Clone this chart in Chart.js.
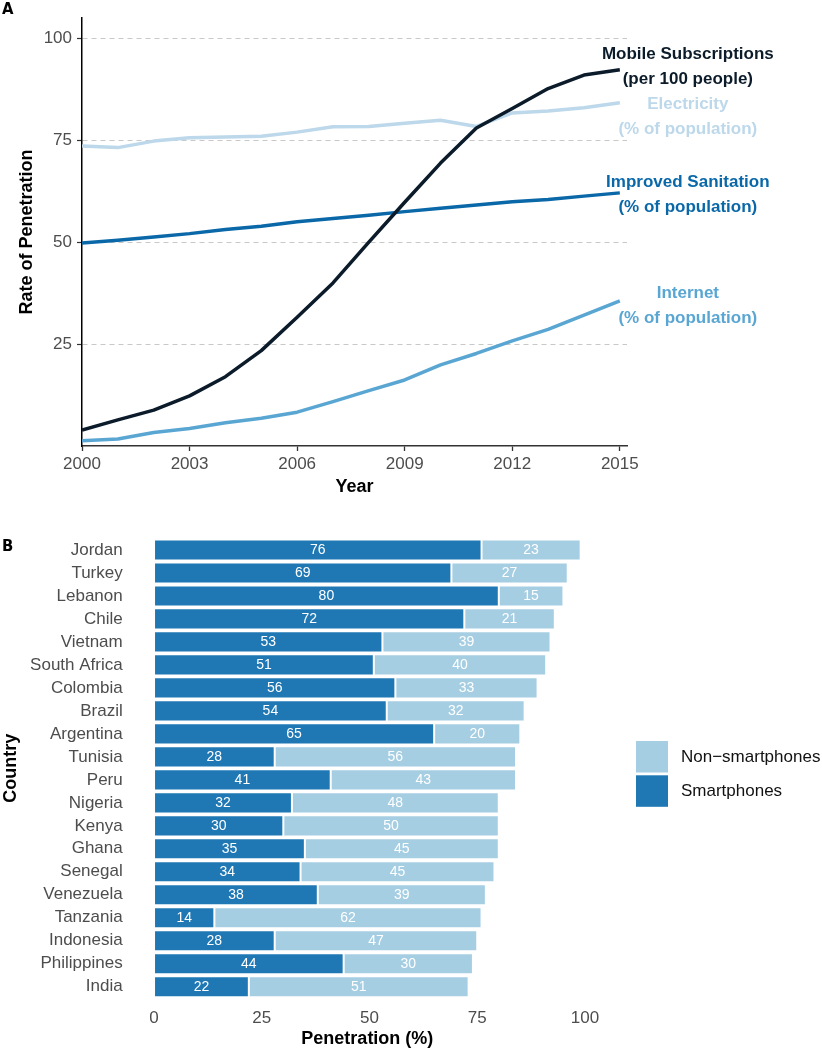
<!DOCTYPE html>
<html>
<head>
<meta charset="utf-8">
<script src="https://cdn.jsdelivr.net/npm/chart.js@4.4.1/dist/chart.umd.min.js"></script>
<style>
  html, body { margin: 0; padding: 0; background: #fff; }
  #page { position: relative; width: 822px; height: 1050px; overflow: hidden; }
  canvas { position: absolute; left: 0; }
  #chartA { top: 0; }
  #chartB { top: 520px; }
  .panel {
    position: absolute;
    left: 2px;
    font: bold 16.5px "Liberation Sans Narrow", "DejaVu Sans Condensed", sans-serif;
    line-height: 1;
    color: #000;
  }
</style>
</head>
<body>
<div id="page">
  <canvas id="chartA" width="822" height="505"></canvas>
  <canvas id="chartB" width="822" height="530"></canvas>
  <div class="panel" style="top:1px">A</div>
  <div class="panel" style="top:538px">B</div>
</div>
<script>
// panel A - penetration over time
const years = [2000, 2001, 2002, 2003, 2004, 2005, 2006, 2007, 2008, 2009, 2010, 2011, 2012, 2013, 2014, 2015];
const mobileSubs = [3.9, 6.4, 8.8, 12.3, 17.0, 23.4, 31.6, 40.0, 50.0, 59.8, 69.4, 78.0, 82.8, 87.7, 91.0, 92.3];
const electricity = [73.6, 73.2, 74.8, 75.6, 75.8, 76.0, 77.0, 78.3, 78.4, 79.2, 79.9, 78.4, 81.7, 82.2, 83.0, 84.2];
const sanitation = [49.8, 50.5, 51.3, 52.1, 53.1, 53.9, 55.0, 55.8, 56.6, 57.5, 58.3, 59.1, 59.9, 60.5, 61.3, 62.1];
const internet = [1.3, 1.7, 3.3, 4.3, 5.7, 6.8, 8.3, 10.9, 13.6, 16.2, 19.9, 22.7, 25.8, 28.6, 32.1, 35.6];
const yearTicks = [2000, 2003, 2006, 2009, 2012, 2015];
const rateTicks = [25, 50, 75, 100];

// panel B - phone penetration by country
const countries = ["Jordan", "Turkey", "Lebanon", "Chile", "Vietnam", "South Africa", "Colombia", "Brazil",
  "Argentina", "Tunisia", "Peru", "Nigeria", "Kenya", "Ghana", "Senegal", "Venezuela", "Tanzania",
  "Indonesia", "Philippines", "India"];
const smartphones = [76, 69, 80, 72, 53, 51, 56, 54, 65, 28, 41, 32, 30, 35, 34, 38, 14, 28, 44, 22];
const nonSmartphones = [23, 27, 15, 21, 39, 40, 33, 32, 20, 56, 43, 48, 50, 45, 45, 39, 62, 47, 30, 51];
const penetrationTicks = [0, 25, 50, 75, 100];

const FONT = '"Liberation Sans", Arial, sans-serif';
Chart.defaults.font.family = FONT;
Chart.defaults.color = "#4d4d4d";
Chart.defaults.animation = false;

function points(values) {
  return values.map((v, i) => ({ x: years[i], y: v }));
}

// two-line labels to the right of each line end
const endLabels = {
  id: "endLabels",
  afterDatasetsDraw(chart) {
    const ctx = chart.ctx;
    const x = chart.scales.x.getPixelForValue(2015) + 68;
    ctx.save();
    ctx.font = "bold 17px " + FONT;
    ctx.textAlign = "center";
    ctx.textBaseline = "middle";
    chart.data.datasets.forEach((ds) => {
      const last = ds.data[ds.data.length - 1];
      const yc = chart.scales.y.getPixelForValue(last.y) + ds.labelShift;
      ctx.fillStyle = ds.borderColor;
      ds.labelLines.forEach((line, k) => {
        ctx.fillText(line, x, yc + (k - 0.5) * 25);
      });
    });
    ctx.restore();
  },
};

new Chart(document.getElementById("chartA"), {
  type: "line",
  data: {
    datasets: [
      { data: points(mobileSubs), borderColor: "#0b1b2a", labelLines: ["Mobile Subscriptions", "(per 100 people)"], labelShift: -2.5 },
      { data: points(electricity), borderColor: "#bcd8ea", labelLines: ["Electricity", "(% of population)"], labelShift: 13.7 },
      { data: points(sanitation), borderColor: "#0a68a8", labelLines: ["Improved Sanitation", "(% of population)"], labelShift: 1.8 },
      { data: points(internet), borderColor: "#5aa6d3", labelLines: ["Internet", "(% of population)"], labelShift: 4.8 },
    ],
  },
  options: {
    responsive: false,
    layout: { padding: { top: 18, right: 195, left: 0, bottom: 0 } },
    plugins: { legend: { display: false }, tooltip: { enabled: false } },
    elements: {
      point: { radius: 0 },
      line: { borderWidth: 3.5, tension: 0, borderCapStyle: "butt", borderJoinStyle: "round" },
    },
    scales: {
      x: {
        type: "linear",
        min: 2000,
        max: 2015.2,
        afterBuildTicks: (s) => { s.ticks = yearTicks.map((v) => ({ value: v })); },
        afterFit: (s) => { s.height = 59; s.paddingLeft = 0; s.paddingRight = 0; },
        ticks: { callback: (v) => String(v), font: { size: 17 }, padding: 3, maxRotation: 0, autoSkip: false },
        grid: { drawOnChartArea: false, drawTicks: true, tickLength: 5, tickColor: "#333", tickWidth: 1.3 },
        border: { color: "#333", width: 1.5 },
        title: { display: true, text: "Year", color: "#000", font: { size: 18, weight: "bold" }, padding: { top: 0, bottom: 7 } },
      },
      y: {
        min: 0,
        max: 105,
        afterBuildTicks: (s) => { s.ticks = rateTicks.map((v) => ({ value: v })); },
        afterFit: (s) => { s.width = 82; s.paddingTop = 0; s.paddingBottom = 0; },
        ticks: { font: { size: 17 }, padding: 5 },
        grid: { color: "#c8c8c8", lineWidth: 1, tickLength: 5, tickColor: "#333", tickWidth: 1.2 },
        border: { color: "#000", width: 1.5, dash: [5, 4] },
        title: { display: true, text: "Rate of Penetration", color: "#000", font: { size: 18, weight: "bold" }, padding: { top: 16, bottom: 0 } },
      },
    },
  },
  plugins: [endLabels],
});

// numbers written inside each bar segment
const barValues = {
  id: "barValues",
  afterDatasetsDraw(chart) {
    const ctx = chart.ctx;
    ctx.save();
    ctx.font = "14px " + FONT;
    ctx.fillStyle = "#ffffff";
    ctx.textAlign = "center";
    ctx.textBaseline = "middle";
    chart.data.datasets.forEach((ds, di) => {
      chart.getDatasetMeta(di).data.forEach((bar, i) => {
        ctx.fillText(ds.data[i], (bar.x + bar.base) / 2, bar.y);
      });
    });
    ctx.restore();
  },
};

// legend to the right, last series first
const sideLegend = {
  id: "sideLegend",
  afterDraw(chart) {
    const ctx = chart.ctx;
    const left = chart.chartArea.right + 34;
    let top = 221;
    ctx.save();
    ctx.font = "17px " + FONT;
    ctx.textBaseline = "middle";
    chart.data.datasets.slice().reverse().forEach((ds) => {
      ctx.fillStyle = ds.backgroundColor;
      ctx.fillRect(left, top, 32, 31.5);
      ctx.fillStyle = "#111";
      ctx.fillText(ds.label, left + 45, top + 16);
      top += 34.3;
    });
    ctx.restore();
  },
};

new Chart(document.getElementById("chartB"), {
  type: "bar",
  data: {
    labels: countries,
    datasets: [
      { label: "Smartphones", data: smartphones, backgroundColor: "#1f78b4" },
      { label: "Non\u2212smartphones", data: nonSmartphones, backgroundColor: "#a6cee3" },
    ],
  },
  options: {
    indexAxis: "y",
    responsive: false,
    layout: { padding: { top: 18.5, right: 220, left: 0, bottom: 0 } },
    datasets: {
      bar: { barPercentage: 0.92, categoryPercentage: 1, borderWidth: 1, borderColor: "rgba(255,255,255,0.45)", borderSkipped: false },
    },
    plugins: { legend: { display: false }, tooltip: { enabled: false } },
    scales: {
      x: {
        stacked: true,
        min: -4.95,
        max: 103.95,
        afterBuildTicks: (s) => { s.ticks = penetrationTicks.map((v) => ({ value: v })); },
        afterFit: (s) => { s.height = 51.8; s.paddingLeft = 0; s.paddingRight = 0; },
        grid: { display: false, drawTicks: false },
        border: { display: false },
        ticks: { font: { size: 17 }, padding: 10, maxRotation: 0, autoSkip: false },
        title: { display: true, text: "Penetration (%)", color: "#000", font: { size: 18, weight: "bold" }, padding: { top: 0, bottom: 0 } },
      },
      y: {
        stacked: true,
        afterFit: (s) => { s.width = 132.7; s.paddingTop = 0; s.paddingBottom = 0; },
        grid: { display: false, drawTicks: false },
        border: { display: false },
        ticks: { font: { size: 17 }, padding: 10, autoSkip: false },
        title: { display: true, text: "Country", color: "#000", font: { size: 18, weight: "bold" }, padding: { top: 0, bottom: 0 } },
      },
    },
  },
  plugins: [barValues, sideLegend],
});
</script>
</body>
</html>
